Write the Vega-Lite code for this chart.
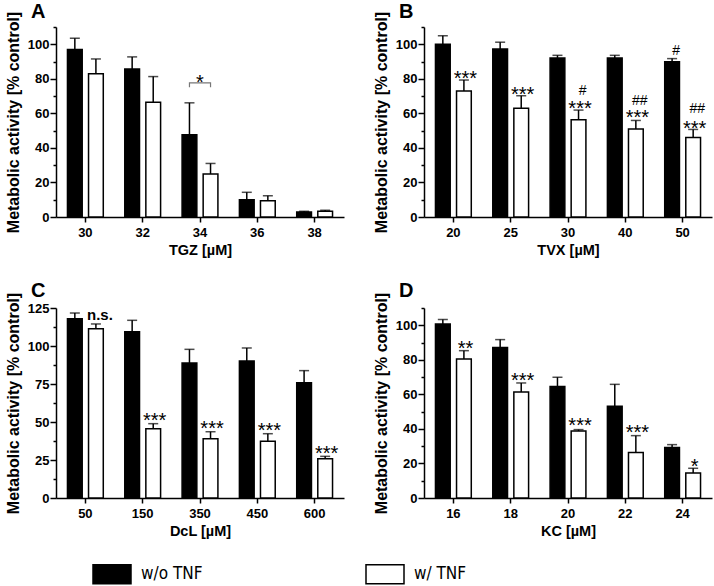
{
  "$schema": "https://vega.github.io/schema/vega-lite/v6.json",
  "padding": {"left": 5, "top": 2, "right": 2, "bottom": 4},
  "background": "white",
  "datasets": {
    "A": [
      {"conc": 30, "cond": "w/o TNF", "value": 97, "hi": 103.5},
      {"conc": 30, "cond": "w/ TNF", "value": 83, "hi": 91.5},
      {"conc": 32, "cond": "w/o TNF", "value": 85.7, "hi": 92.7},
      {"conc": 32, "cond": "w/ TNF", "value": 66.5, "hi": 81.3},
      {"conc": 34, "cond": "w/o TNF", "value": 47.6, "hi": 66.1},
      {"conc": 34, "cond": "w/ TNF", "value": 24.9, "hi": 31},
      {"conc": 36, "cond": "w/o TNF", "value": 10, "hi": 14.3},
      {"conc": 36, "cond": "w/ TNF", "value": 9.4, "hi": 12.3},
      {"conc": 38, "cond": "w/o TNF", "value": 2.9, "hi": 3.3},
      {"conc": 38, "cond": "w/ TNF", "value": 3.3, "hi": 3.9}
    ],
    "B": [
      {"conc": 20, "cond": "w/o TNF", "value": 100, "hi": 105},
      {"conc": 20, "cond": "w/ TNF", "value": 72.9, "hi": 79.3},
      {"conc": 25, "cond": "w/o TNF", "value": 97.3, "hi": 101.2},
      {"conc": 25, "cond": "w/ TNF", "value": 62.9, "hi": 70.2},
      {"conc": 30, "cond": "w/o TNF", "value": 92.1, "hi": 93.6},
      {"conc": 30, "cond": "w/ TNF", "value": 56.3, "hi": 61.9},
      {"conc": 40, "cond": "w/o TNF", "value": 92.1, "hi": 93.6},
      {"conc": 40, "cond": "w/ TNF", "value": 50.9, "hi": 55.9},
      {"conc": 50, "cond": "w/o TNF", "value": 89.9, "hi": 91.7},
      {"conc": 50, "cond": "w/ TNF", "value": 46, "hi": 50.7}
    ],
    "C": [
      {"conc": 50, "cond": "w/o TNF", "value": 118, "hi": 121.7},
      {"conc": 50, "cond": "w/ TNF", "value": 111.4, "hi": 114.5},
      {"conc": 150, "cond": "w/o TNF", "value": 109.4, "hi": 116.9},
      {"conc": 150, "cond": "w/ TNF", "value": 45.6, "hi": 48.9},
      {"conc": 350, "cond": "w/o TNF", "value": 88.8, "hi": 97.8},
      {"conc": 350, "cond": "w/ TNF", "value": 39, "hi": 43.6},
      {"conc": 450, "cond": "w/o TNF", "value": 90.1, "hi": 98.7},
      {"conc": 450, "cond": "w/ TNF", "value": 37.3, "hi": 42.3},
      {"conc": 600, "cond": "w/o TNF", "value": 75.9, "hi": 83.8},
      {"conc": 600, "cond": "w/ TNF", "value": 25.9, "hi": 27.4}
    ],
    "D": [
      {"conc": 16, "cond": "w/o TNF", "value": 100.8, "hi": 103.3},
      {"conc": 16, "cond": "w/ TNF", "value": 80.5, "hi": 85.3},
      {"conc": 18, "cond": "w/o TNF", "value": 87.1, "hi": 91.7},
      {"conc": 18, "cond": "w/ TNF", "value": 61.4, "hi": 66.6},
      {"conc": 20, "cond": "w/o TNF", "value": 64.5, "hi": 69.9},
      {"conc": 20, "cond": "w/ TNF", "value": 38.8, "hi": 39.6},
      {"conc": 22, "cond": "w/o TNF", "value": 53.1, "hi": 65.8},
      {"conc": 22, "cond": "w/ TNF", "value": 26.3, "hi": 36.1},
      {"conc": 24, "cond": "w/o TNF", "value": 29.2, "hi": 30.9},
      {"conc": 24, "cond": "w/ TNF", "value": 14.5, "hi": 17.2}
    ],
    "bracketA": [
      {"conc": 34, "cond": "w/o TNF", "y": 75.1, "o": 1},
      {"conc": 34, "cond": "w/o TNF", "y": 77.6, "o": 2},
      {"conc": 34, "cond": "w/ TNF", "y": 77.6, "o": 3},
      {"conc": 34, "cond": "w/ TNF", "y": 75.1, "o": 4}
    ],
    "starA": [{"conc": 34, "label": "*", "y": 74.0}],
    "annB": [
      {"conc": 20, "cond": "w/ TNF", "kind": "p", "label": "***", "y": 76.5},
      {"conc": 25, "cond": "w/ TNF", "kind": "p", "label": "***", "y": 67.2},
      {"conc": 30, "cond": "w/ TNF", "kind": "p", "label": "***", "y": 59.0},
      {"conc": 40, "cond": "w/ TNF", "kind": "p", "label": "***", "y": 53.6},
      {"conc": 50, "cond": "w/ TNF", "kind": "p", "label": "***", "y": 47.5},
      {"conc": 30, "cond": "w/ TNF", "kind": "h", "label": "#", "y": 70.6},
      {"conc": 40, "cond": "w/ TNF", "kind": "h", "label": "##", "y": 65.0},
      {"conc": 50, "cond": "w/ TNF", "kind": "h", "label": "##", "y": 60.2},
      {"conc": 50, "cond": "w/o TNF", "kind": "h", "label": "#", "y": 93.8}
    ],
    "annC": [
      {"conc": 150, "cond": "w/ TNF", "kind": "p", "label": "***", "y": 46.5},
      {"conc": 350, "cond": "w/ TNF", "kind": "p", "label": "***", "y": 41.3},
      {"conc": 450, "cond": "w/ TNF", "kind": "p", "label": "***", "y": 39.9},
      {"conc": 600, "cond": "w/ TNF", "kind": "p", "label": "***", "y": 25.0},
      {"conc": 50, "cond": "w/ TNF", "kind": "n", "label": "n.s.", "y": 117.3}
    ],
    "annD": [
      {"conc": 16, "cond": "w/ TNF", "kind": "p", "label": "**", "y": 83.0},
      {"conc": 18, "cond": "w/ TNF", "kind": "p", "label": "***", "y": 64.1},
      {"conc": 20, "cond": "w/ TNF", "kind": "p", "label": "***", "y": 38.1},
      {"conc": 22, "cond": "w/ TNF", "kind": "p", "label": "***", "y": 34.3},
      {"conc": 24, "cond": "w/ TNF", "kind": "p", "label": "*", "y": 14.5}
    ]
  },
  "vconcat": [
    {
      "hconcat": [
        {
          "width": 288, "height": 190,
          "title": {"text": "A"},
          "resolve": {"axis": {"y": "independent"}},
          "layer": [
            {
              "data": {"name": "A"},
              "mark": {"type": "bar", "stroke": "black", "strokeWidth": 1.5},
              "encoding": {
                "x": {"field": "conc", "type": "ordinal", "scale": {"paddingInner": 0.375, "paddingOuter": 0.2}, "axis": {"title": "TGZ [µM]"}},
                "xOffset": {"field": "cond", "type": "nominal", "sort": ["w/o TNF", "w/ TNF"], "scale": {"paddingInner": 0.3, "paddingOuter": 0}},
                "y": {"field": "value", "type": "quantitative", "scale": {"domain": [0, 110], "nice": false}, "axis": {"title": "Metabolic activity [% control]", "values": [0, 20, 40, 60, 80, 100], "orient": "left"}},
                "fill": {"field": "cond", "type": "nominal", "scale": {"domain": ["w/o TNF", "w/ TNF"], "range": ["black", "white"]}, "legend": {"title": null, "orient": "none", "legendX": 36, "legendY": 527, "direction": "horizontal"}}
              }
            },
            {
              "data": {"name": "A"},
              "mark": {"type": "rule", "strokeWidth": 1.5, "color": "black"},
              "encoding": {
                "x": {"field": "conc", "type": "ordinal"},
                "xOffset": {"field": "cond", "type": "nominal", "sort": ["w/o TNF", "w/ TNF"]},
                "y": {"field": "value", "type": "quantitative", "axis": {"values": [10, 30, 50, 70, 90, 110], "labels": false, "tickSize": 3, "domain": false, "title": null, "orient": "left"}},
                "y2": {"field": "hi"}
              }
            },
            {
              "data": {"name": "A"},
              "mark": {"type": "tick", "size": 10, "thickness": 1.5, "color": "black"},
              "encoding": {
                "x": {"field": "conc", "type": "ordinal"},
                "xOffset": {"field": "cond", "type": "nominal", "sort": ["w/o TNF", "w/ TNF"]},
                "y": {"field": "hi", "type": "quantitative", "axis": null}
              }
            },
            {
              "data": {"name": "bracketA"},
              "mark": {"type": "line", "color": "#777777", "strokeWidth": 1.2},
              "encoding": {
                "x": {"field": "conc", "type": "ordinal"},
                "xOffset": {"field": "cond", "type": "nominal", "sort": ["w/o TNF", "w/ TNF"]},
                "y": {"field": "y", "type": "quantitative", "axis": null},
                "order": {"field": "o", "type": "quantitative"}
              }
            },
            {
              "data": {"name": "starA"},
              "mark": {"type": "text", "fontSize": 20, "baseline": "alphabetic", "color": "black"},
              "encoding": {
                "x": {"field": "conc", "type": "ordinal"},
                "y": {"field": "y", "type": "quantitative", "axis": null},
                "text": {"field": "label"}
              }
            }
          ]
        },
        {
          "width": 288, "height": 190,
          "title": {"text": "B"},
          "resolve": {"axis": {"y": "independent"}},
          "layer": [
            {
              "data": {"name": "B"},
              "mark": {"type": "bar", "stroke": "black", "strokeWidth": 1.5},
              "encoding": {
                "x": {"field": "conc", "type": "ordinal", "scale": {"paddingInner": 0.375, "paddingOuter": 0.2}, "axis": {"title": "TVX [µM]"}},
                "xOffset": {"field": "cond", "type": "nominal", "sort": ["w/o TNF", "w/ TNF"], "scale": {"paddingInner": 0.3, "paddingOuter": 0}},
                "y": {"field": "value", "type": "quantitative", "scale": {"domain": [0, 110], "nice": false}, "axis": {"title": "Metabolic activity [% control]", "values": [0, 20, 40, 60, 80, 100], "orient": "left"}},
                "fill": {"field": "cond", "type": "nominal", "scale": {"domain": ["w/o TNF", "w/ TNF"], "range": ["black", "white"]}, "legend": {"title": null, "orient": "none", "legendX": 36, "legendY": 527, "direction": "horizontal"}}
              }
            },
            {
              "data": {"name": "B"},
              "mark": {"type": "rule", "strokeWidth": 1.5, "color": "black"},
              "encoding": {
                "x": {"field": "conc", "type": "ordinal"},
                "xOffset": {"field": "cond", "type": "nominal", "sort": ["w/o TNF", "w/ TNF"]},
                "y": {"field": "value", "type": "quantitative", "axis": {"values": [10, 30, 50, 70, 90, 110], "labels": false, "tickSize": 3, "domain": false, "title": null, "orient": "left"}},
                "y2": {"field": "hi"}
              }
            },
            {
              "data": {"name": "B"},
              "mark": {"type": "tick", "size": 10, "thickness": 1.5, "color": "black"},
              "encoding": {
                "x": {"field": "conc", "type": "ordinal"},
                "xOffset": {"field": "cond", "type": "nominal", "sort": ["w/o TNF", "w/ TNF"]},
                "y": {"field": "hi", "type": "quantitative", "axis": null}
              }
            },
            {
              "data": {"name": "annB"},
              "transform": [{"filter": "datum.kind === 'p'"}],
              "mark": {"type": "text", "fontSize": 20, "baseline": "alphabetic", "color": "black", "dx": 1.5},
              "encoding": {
                "x": {"field": "conc", "type": "ordinal"},
                "xOffset": {"field": "cond", "type": "nominal", "sort": ["w/o TNF", "w/ TNF"]},
                "y": {"field": "y", "type": "quantitative", "axis": null},
                "text": {"field": "label"}
              }
            },
            {
              "data": {"name": "annB"},
              "transform": [{"filter": "datum.kind === 'h'"}],
              "mark": {"type": "text", "fontSize": 14, "baseline": "alphabetic", "color": "black", "dx": 4},
              "encoding": {
                "x": {"field": "conc", "type": "ordinal"},
                "xOffset": {"field": "cond", "type": "nominal", "sort": ["w/o TNF", "w/ TNF"]},
                "y": {"field": "y", "type": "quantitative", "axis": null},
                "text": {"field": "label"}
              }
            }
          ]
        }
      ]
    },
    {
      "hconcat": [
        {
          "width": 288, "height": 190,
          "title": {"text": "C", "offset": -9},
          "resolve": {"axis": {"y": "independent"}},
          "layer": [
            {
              "data": {"name": "C"},
              "mark": {"type": "bar", "stroke": "black", "strokeWidth": 1.5},
              "encoding": {
                "x": {"field": "conc", "type": "ordinal", "scale": {"paddingInner": 0.375, "paddingOuter": 0.2}, "axis": {"title": "DcL [µM]"}},
                "xOffset": {"field": "cond", "type": "nominal", "sort": ["w/o TNF", "w/ TNF"], "scale": {"paddingInner": 0.3, "paddingOuter": 0}},
                "y": {"field": "value", "type": "quantitative", "scale": {"domain": [0, 125], "nice": false}, "axis": {"title": "Metabolic activity [% control]", "values": [0, 25, 50, 75, 100, 125], "orient": "left"}},
                "fill": {"field": "cond", "type": "nominal", "scale": {"domain": ["w/o TNF", "w/ TNF"], "range": ["black", "white"]}, "legend": {"title": null, "orient": "none", "legendX": 36, "legendY": 527, "direction": "horizontal"}}
              }
            },
            {
              "data": {"name": "C"},
              "mark": {"type": "rule", "strokeWidth": 1.5, "color": "black"},
              "encoding": {
                "x": {"field": "conc", "type": "ordinal"},
                "xOffset": {"field": "cond", "type": "nominal", "sort": ["w/o TNF", "w/ TNF"]},
                "y": {"field": "value", "type": "quantitative", "axis": {"values": [12.5, 37.5, 62.5, 87.5, 112.5], "labels": false, "tickSize": 3, "domain": false, "title": null, "orient": "left"}},
                "y2": {"field": "hi"}
              }
            },
            {
              "data": {"name": "C"},
              "mark": {"type": "tick", "size": 10, "thickness": 1.5, "color": "black"},
              "encoding": {
                "x": {"field": "conc", "type": "ordinal"},
                "xOffset": {"field": "cond", "type": "nominal", "sort": ["w/o TNF", "w/ TNF"]},
                "y": {"field": "hi", "type": "quantitative", "axis": null}
              }
            },
            {
              "data": {"name": "annC"},
              "transform": [{"filter": "datum.kind === 'p'"}],
              "mark": {"type": "text", "fontSize": 20, "baseline": "alphabetic", "color": "black", "dx": 1.5},
              "encoding": {
                "x": {"field": "conc", "type": "ordinal"},
                "xOffset": {"field": "cond", "type": "nominal", "sort": ["w/o TNF", "w/ TNF"]},
                "y": {"field": "y", "type": "quantitative", "axis": null},
                "text": {"field": "label"}
              }
            },
            {
              "data": {"name": "annC"},
              "transform": [{"filter": "datum.kind === 'n'"}],
              "mark": {"type": "text", "fontSize": 15, "fontWeight": "bold", "baseline": "alphabetic", "color": "black", "dx": 4},
              "encoding": {
                "x": {"field": "conc", "type": "ordinal"},
                "xOffset": {"field": "cond", "type": "nominal", "sort": ["w/o TNF", "w/ TNF"]},
                "y": {"field": "y", "type": "quantitative", "axis": null},
                "text": {"field": "label"}
              }
            }
          ]
        },
        {
          "width": 288, "height": 190,
          "title": {"text": "D", "offset": -9},
          "resolve": {"axis": {"y": "independent"}},
          "layer": [
            {
              "data": {"name": "D"},
              "mark": {"type": "bar", "stroke": "black", "strokeWidth": 1.5},
              "encoding": {
                "x": {"field": "conc", "type": "ordinal", "scale": {"paddingInner": 0.375, "paddingOuter": 0.2}, "axis": {"title": "KC [µM]"}},
                "xOffset": {"field": "cond", "type": "nominal", "sort": ["w/o TNF", "w/ TNF"], "scale": {"paddingInner": 0.3, "paddingOuter": 0}},
                "y": {"field": "value", "type": "quantitative", "scale": {"domain": [0, 110], "nice": false}, "axis": {"title": "Metabolic activity [% control]", "values": [0, 20, 40, 60, 80, 100], "orient": "left"}},
                "fill": {"field": "cond", "type": "nominal", "scale": {"domain": ["w/o TNF", "w/ TNF"], "range": ["black", "white"]}, "legend": {"title": null, "orient": "none", "legendX": 36, "legendY": 527, "direction": "horizontal"}}
              }
            },
            {
              "data": {"name": "D"},
              "mark": {"type": "rule", "strokeWidth": 1.5, "color": "black"},
              "encoding": {
                "x": {"field": "conc", "type": "ordinal"},
                "xOffset": {"field": "cond", "type": "nominal", "sort": ["w/o TNF", "w/ TNF"]},
                "y": {"field": "value", "type": "quantitative", "axis": {"values": [10, 30, 50, 70, 90, 110], "labels": false, "tickSize": 3, "domain": false, "title": null, "orient": "left"}},
                "y2": {"field": "hi"}
              }
            },
            {
              "data": {"name": "D"},
              "mark": {"type": "tick", "size": 10, "thickness": 1.5, "color": "black"},
              "encoding": {
                "x": {"field": "conc", "type": "ordinal"},
                "xOffset": {"field": "cond", "type": "nominal", "sort": ["w/o TNF", "w/ TNF"]},
                "y": {"field": "hi", "type": "quantitative", "axis": null}
              }
            },
            {
              "data": {"name": "annD"},
              "mark": {"type": "text", "fontSize": 20, "baseline": "alphabetic", "color": "black", "dx": 1.5},
              "encoding": {
                "x": {"field": "conc", "type": "ordinal"},
                "xOffset": {"field": "cond", "type": "nominal", "sort": ["w/o TNF", "w/ TNF"]},
                "y": {"field": "y", "type": "quantitative", "axis": null},
                "text": {"field": "label"}
              }
            }
          ]
        }
      ]
    }
  ],
  "spacing": 24,
  "config": {
    "font": "Liberation Sans",
    "view": {"stroke": null},
    "concat": {"spacing": 29},
    "title": {"anchor": "start", "frame": "group", "dx": -25, "fontSize": 20, "fontWeight": "bold", "color": "black", "offset": -11, "font": "Liberation Sans"},
    "axis": {"grid": false, "domainColor": "black", "domainWidth": 1.5, "tickColor": "black", "tickWidth": 1.5, "labelFont": "Liberation Sans", "labelFontWeight": "bold", "labelFontSize": 13, "labelColor": "black", "labelOverlap": false, "titleFont": "Liberation Sans", "titleFontWeight": "bold", "titleFontSize": 14.5, "titleColor": "black"},
    "axisX": {"tickSize": 5, "labelAngle": 0, "labelPadding": 4, "titlePadding": 4},
    "axisY": {"tickSize": 6, "labelPadding": 1, "titlePadding": 5.5, "titleFontSize": 16},
    "legend": {"symbolType": "M-1,-0.5L1,-0.5L1,0.5L-1,0.5Z", "symbolSize": 1444, "symbolStrokeColor": "black", "symbolStrokeWidth": 1.5, "labelFont": "Liberation Sans Narrow, DejaVu Sans Condensed, Liberation Sans, sans-serif", "labelFontSize": 17, "labelColor": "black", "labelOffset": 9, "columnPadding": 160}
  }
}
